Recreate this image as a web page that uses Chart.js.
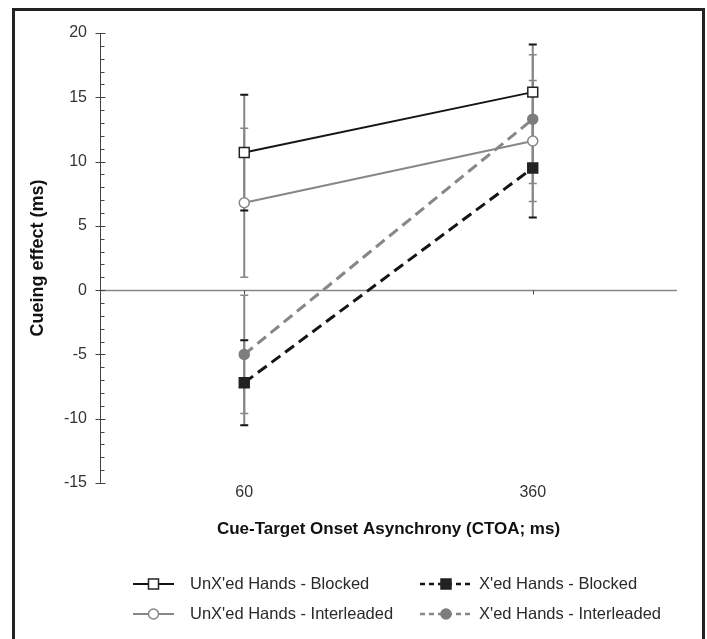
<!DOCTYPE html>
<html>
<head>
<meta charset="utf-8">
<script src="https://cdn.jsdelivr.net/npm/chart.js@4.4.1/dist/chart.umd.min.js"></script>
<style>
  html, body { margin:0; padding:0; background:#fff; }
  #wrap { width:707px; height:639px; }
</style>
</head>
<body>
<div id="wrap"><canvas id="chart" width="707" height="639"></canvas></div>
<script>
// CTOA categories and cueing effect (ms)
const ctoaLabels    = ['60', '360'];
const yTickValues   = [-15, -10, -5, 0, 5, 10, 15, 20];

const unxBlocked    = [10.7, 15.4];
const unxBlockedErr = [4.5, 3.7];
const xBlocked      = [-7.2, 9.5];
const xBlockedErr   = [3.3, 3.85];
const unxInter      = [6.8, 11.6];
const unxInterErr   = [5.8, 4.7];
const xInter        = [-5.0, 13.3];
const xInterErr     = [4.6, 5.0];

const seriesNames = ["UnX'ed Hands - Blocked", "X'ed Hands - Blocked", "UnX'ed Hands - Interleaded", "X'ed Hands - Interleaded"];

const BLACK = '#151515';
const GRAY  = '#878787';
Chart.defaults.font.family = '"Liberation Sans", Arial, sans-serif';

function drawMarker(ctx, style, x, y, fill, stroke) {
  ctx.save();
  ctx.fillStyle = fill; ctx.strokeStyle = stroke; ctx.lineWidth = 1.5; ctx.setLineDash([]);
  ctx.beginPath();
  if (style === 'rect') ctx.rect(x - 5, y - 5, 10, 10);
  else ctx.arc(x, y, 5, 0, Math.PI * 2);
  ctx.fill(); ctx.stroke();
  ctx.restore();
}

function drawCategoryTicks(ctx, x, zy) {
  // small category ticks below the zero line
  ctx.strokeStyle = '#444';
  x.ticks.forEach((t, k) => {
    const px = Math.round(x.getPixelForTick(k)) + 0.5;
    ctx.beginPath(); ctx.moveTo(px, zy); ctx.lineTo(px, zy + 4); ctx.stroke();
  });
}

// axis line, ticks, zero line and error bars, under the series
const axesAndErrors = {
  id: 'axesAndErrors',
  beforeDatasetsDraw(chart) {
    const { ctx, chartArea: a, scales: { x, y } } = chart;
    ctx.save();
    const zy = Math.round(y.getPixelForValue(0)) + 0.5;
    ctx.strokeStyle = GRAY; ctx.lineWidth = 1.5;
    ctx.beginPath(); ctx.moveTo(a.left, zy); ctx.lineTo(a.right, zy); ctx.stroke();
    ctx.lineWidth = 1;
    drawCategoryTicks(ctx, x, zy);
    // y axis
    const ax = a.left + 0.5;
    ctx.strokeStyle = '#444';
    ctx.beginPath(); ctx.moveTo(ax, y.getPixelForValue(y.min)); ctx.lineTo(ax, y.getPixelForValue(y.max)); ctx.stroke();
    for (let v = y.min; v <= y.max; v++) {
      const py = Math.round(y.getPixelForValue(v)) + 0.5;
      ctx.beginPath();
      if (v % 5 === 0) { ctx.moveTo(ax - 5, py); ctx.lineTo(ax + 5, py); }
      else { ctx.moveTo(ax, py); ctx.lineTo(ax + 4, py); }
      ctx.stroke();
    }
    // error bars: gray whiskers, caps in the series colour
    chart.data.datasets.forEach((ds, i) => {
      chart.getDatasetMeta(i).data.forEach((pt, j) => {
        const top = y.getPixelForValue(ds.data[j] + ds.errors[j]);
        const bot = y.getPixelForValue(ds.data[j] - ds.errors[j]);
        ctx.strokeStyle = GRAY; ctx.lineWidth = 2;
        ctx.beginPath(); ctx.moveTo(pt.x, top); ctx.lineTo(pt.x, bot); ctx.stroke();
      });
    });
    chart.data.datasets.forEach((ds, i) => {
      chart.getDatasetMeta(i).data.forEach((pt, j) => {
        const top = y.getPixelForValue(ds.data[j] + ds.errors[j]);
        const bot = y.getPixelForValue(ds.data[j] - ds.errors[j]);
        ctx.strokeStyle = ds.borderColor; ctx.lineWidth = ds.borderColor === BLACK ? 2 : 1.5;
        ctx.beginPath();
        ctx.moveTo(pt.x - 4, top); ctx.lineTo(pt.x + 4, top);
        ctx.moveTo(pt.x - 4, bot); ctx.lineTo(pt.x + 4, bot);
        ctx.stroke();
      });
    });
    ctx.restore();
  },
  afterDraw(chart) {
    const { ctx } = chart;
    ctx.save();
    // legend
    const rows = [584, 614];
    const cols = [{ x0: 133, x1: 174, tx: 190 }, { x0: 420, x1: 472, tx: 479 }];
    chart.data.datasets.forEach((ds, i) => {
      const c = cols[i % 2], ry = rows[Math.floor(i / 2)];
      ctx.strokeStyle = ds.borderColor;
      ctx.lineWidth = ds.borderDash ? 2.5 : 2;
      ctx.setLineDash(ds.borderDash ? [5, 4] : []);
      ctx.beginPath(); ctx.moveTo(c.x0, ry); ctx.lineTo(c.x1, ry); ctx.stroke();
      drawMarker(ctx, ds.pointStyle, (c.x0 + c.x1) / 2, ry, ds.pointBackgroundColor, ds.pointBorderColor);
      ctx.setLineDash([]);
      ctx.fillStyle = '#2a2a2a';
      ctx.font = '16.5px "Liberation Sans", Arial, sans-serif';
      ctx.textBaseline = 'middle';
      ctx.fillText(ds.label, c.tx, ry);
    });
    // outer frame
    ctx.strokeStyle = '#222'; ctx.lineWidth = 3;
    ctx.strokeRect(13.5, 9.5, 690, 650);
    ctx.restore();
  }
};

new Chart(document.getElementById('chart'), {
  type: 'line',
  data: {
    labels: ctoaLabels,
    datasets: [
      { label: seriesNames[0], data: unxBlocked, errors: unxBlockedErr, borderColor: BLACK, borderWidth: 2,
        pointStyle: 'rect', pointRadius: 7, pointBackgroundColor: '#fff', pointBorderColor: '#222', pointBorderWidth: 1.5 },
      { label: seriesNames[1], data: xBlocked, errors: xBlockedErr, borderColor: BLACK, borderWidth: 3, borderDash: [11, 6],
        pointStyle: 'rect', pointRadius: 7, pointBackgroundColor: '#222', pointBorderColor: '#222', pointBorderWidth: 1.5 },
      { label: seriesNames[2], data: unxInter, errors: unxInterErr, borderColor: GRAY, borderWidth: 2,
        pointStyle: 'circle', pointRadius: 5, pointBackgroundColor: '#fff', pointBorderColor: GRAY, pointBorderWidth: 1.5 },
      { label: seriesNames[3], data: xInter, errors: xInterErr, borderColor: GRAY, borderWidth: 3, borderDash: [11, 6],
        pointStyle: 'circle', pointRadius: 5, pointBackgroundColor: '#7d7d7d', pointBorderColor: '#7d7d7d', pointBorderWidth: 1.5 }
    ]
  },
  options: {
    responsive: false,
    animation: false,
    layout: { padding: { left: 0, right: 30, top: 33, bottom: 0 } },
    plugins: { legend: { display: false }, tooltip: { enabled: false } },
    scales: {
      x: {
        type: 'category', offset: true,
        grid: { display: false, drawTicks: false }, border: { display: false },
        ticks: { color: '#333', font: { size: 16 }, padding: 0 },
        title: { display: true, text: 'Cue-Target Onset Asynchrony (CTOA; ms)', color: '#111',
                 font: { size: 17, weight: 'bold' }, padding: { top: 0, bottom: 99 } },
        afterFit(s) { s.height = 156; }
      },
      y: {
        min: -15, max: 20,
        afterBuildTicks(s) { s.ticks = yTickValues.map(v => ({ value: v })); },
        grid: { display: false, drawTicks: false }, border: { display: false },
        ticks: { color: '#333', font: { size: 16 }, padding: 13 },
        title: { display: true, text: 'Cueing effect (ms)', color: '#111',
                 font: { size: 18, weight: 'bold' }, padding: { top: 27, bottom: 0 } },
        afterFit(s) { s.width = 100; }
      }
    }
  },
  plugins: [axesAndErrors]
});
</script>
</body>
</html>
